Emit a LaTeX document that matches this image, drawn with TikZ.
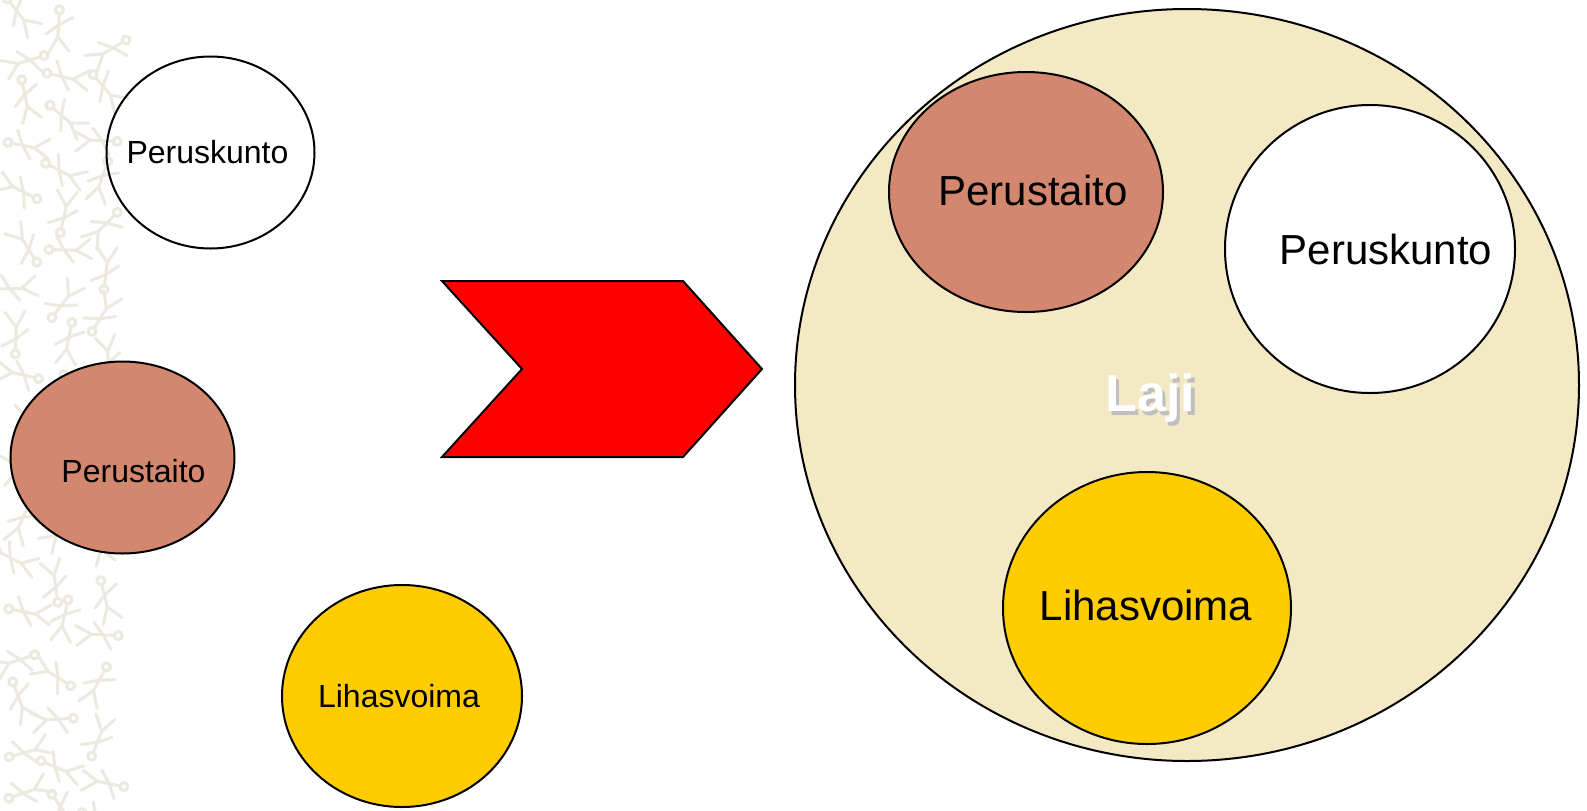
\documentclass[tikz,border=0pt]{standalone}
\usepackage{fontspec}
\setmainfont{Liberation Sans}
\usepackage{tikz}
\usetikzlibrary{shapes.geometric}

\definecolor{taito}{RGB}{212,135,111}
\definecolor{voima}{RGB}{255,204,0}
\definecolor{lajifill}{RGB}{243,233,196}
\definecolor{kuvio}{RGB}{236,233,223}

\tikzset{
  pallo/.style={draw, ellipse, line width=1pt, inner sep=0pt},
  pieni/.style={font=\fontsize{16}{19}\selectfont},
  iso/.style={font=\fontsize{21}{25}\selectfont}
}
\newcommand{\varjoteksti}[1]{\rlap{\hspace{1.6pt}\raisebox{-1.6pt}{\textcolor{black!25}{#1}}}#1}

\begin{document}
\begin{tikzpicture}[x=0.5pt, y=-0.5pt]
    \useasboundingbox (0,0) rectangle (1587,810);

    % background pattern strip
    \pgfmathsetseed{7}
    \foreach \r in {0,...,17} {
        \foreach \c in {0,1,2} {
            \pgfmathsetmacro{\px}{20+\c*42+rand*8}
            \pgfmathsetmacro{\py}{12+\r*46+\c*15+rand*8}
            \pgfmathsetmacro{\rot}{rand*180}
            \begin{scope}[shift={(\px,\py)}, rotate=\rot, draw=kuvio, line width=1.5pt, line cap=round]
                \draw (0,-14) -- (0,8);
                \draw (0,-4) -- (-12,6);
                \draw (0,-4) -- (14,-12);
                \draw (0,8) -- (-8,24);
                \draw (0,8) -- (12,22);
                \draw (0,-19) circle (4);
            \end{scope}
        }
    }

    % left side
    \node (peruskunto) [pallo, minimum width=104pt, minimum height=96pt] at (210.5,152.5) {};
    \node [pieni] at (207.5,152.5) {Peruskunto};
    \node (perustaito) [pallo, fill=taito, minimum width=112pt, minimum height=96pt] at (122.5,457.5) {};
    \node [pieni] at (133.5,471) {Perustaito};
    \node (lihasvoima) [pallo, fill=voima, minimum width=120pt, minimum height=111pt] at (402,696) {};
    \node [pieni] at (399,696) {Lihasvoima};

    % arrow
    \draw[fill=red, line width=1pt, line join=miter]
        (442,281) -- (683,281) -- (762,369) -- (683,457) -- (442,457) -- (522,369) -- cycle;

    % right side
    \node (laji) [pallo, fill=lajifill, minimum width=392pt, minimum height=376pt] at (1187,385) {};
    \node [font=\fontsize{26}{30}\selectfont\bfseries, text=white] at (1150.5,400) {\varjoteksti{Laji}};
    \node (lajitaito) [pallo, fill=taito, minimum width=137pt, minimum height=120pt] at (1026,192) {};
    \node [iso] at (1033,190) {Perustaito};
    \node (lajikunto) [pallo, fill=white, minimum width=145pt, minimum height=144pt] at (1370,249) {};
    \node [iso] at (1386,249) {Peruskunto};
    \node (lajivoima) [pallo, fill=voima, minimum width=144pt, minimum height=136pt] at (1147,608) {};
    \node [iso] at (1146,605) {Lihasvoima};
\end{tikzpicture}
\end{document}
